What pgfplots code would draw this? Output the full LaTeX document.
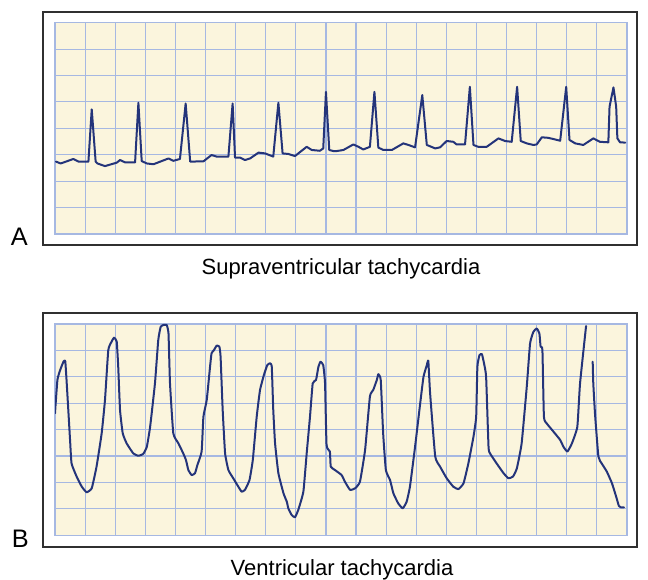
\documentclass[border=0pt]{standalone}
\usepackage{pgfplots}
\pgfplotsset{compat=1.18}
\usepackage{fontspec}
\setmainfont{Liberation Sans}
\definecolor{cream}{HTML}{FBF5DD}
\definecolor{gridblue}{HTML}{A6B8E2}
\definecolor{trace}{HTML}{24347A}
\definecolor{frame}{HTML}{303030}
\pgfplotsset{ecg/.style={
  scale only axis, width=429pt, height=158.5pt, anchor=south west,
  xmin=0, xmax=19, ymin=0, ymax=8,
  xtick={0,...,19}, ytick={0,...,8},
  xticklabels={}, yticklabels={},
  major tick length=0pt,
  grid=major, major grid style={draw=gridblue, line width=0.85pt},
  axis line style={draw=gridblue, line width=0.85pt},
  axis background/.style={fill=cream},
},
ecgline/.style={draw=trace, line width=1.5pt, line join=round, line cap=round, no markers}}
\begin{document}
\begin{tikzpicture}[x=0.75pt,y=0.75pt]
\path[use as bounding box] (0,0) rectangle (648,580);
\coordinate (pA) at (55,346);
\coordinate (pB) at (55,44.7);
% frames
\draw[frame, line width=1.1pt, fill=white] (43,568) rectangle (637,335);
\draw[frame, line width=1.1pt, fill=white] (43,267) rectangle (637,33);
% panel A
\begin{axis}[ecg, at={(pA)}]
\addplot[ecgline, sharp plot] coordinates {
(0.03,2.74)(0.19,2.67)(0.61,2.84)(0.78,2.74)(1.11,2.74)(1.22,4.72)(1.35,2.74)(1.41,2.67)(1.66,2.57)(2.05,2.70)(2.16,2.80)(2.33,2.71)(2.66,2.71)(2.77,4.97)(2.88,2.76)(3.05,2.67)(3.27,2.64)(3.77,2.86)(3.93,2.77)(4.15,2.84)(4.34,4.94)(4.49,2.74)(4.93,2.75)(5.20,2.99)(5.37,2.93)(5.76,2.93)(5.90,4.94)(5.98,2.89)(6.15,2.89)(6.31,2.80)(6.48,2.86)(6.76,3.08)(6.98,3.05)(7.25,2.93)(7.42,4.97)(7.56,3.05)(7.75,3.03)(7.97,2.95)(8.36,3.30)(8.53,3.18)(8.80,3.15)(8.91,3.24)(9.00,5.38)(9.11,3.18)(9.25,3.14)(9.36,3.14)(9.58,3.18)(9.91,3.39)(10.08,3.30)(10.24,3.20)(10.46,3.30)(10.61,5.38)(10.74,3.27)(10.91,3.18)(11.19,3.18)(11.57,3.43)(11.74,3.37)(11.96,3.28)(12.20,5.26)(12.35,3.37)(12.63,3.24)(12.79,3.28)(13.01,3.52)(13.23,3.49)(13.34,3.39)(13.62,3.39)(13.78,5.57)(13.90,3.37)(14.06,3.30)(14.34,3.30)(14.73,3.62)(14.95,3.52)(15.17,3.49)(15.35,5.57)(15.47,3.52)(15.67,3.43)(15.89,3.37)(16.00,3.39)(16.17,3.66)(16.39,3.64)(16.78,3.53)(16.98,5.57)(17.09,3.56)(17.28,3.43)(17.55,3.37)(17.88,3.62)(18.10,3.49)(18.38,3.47)(18.42,4.82)(18.55,5.55)(18.64,4.82)(18.68,3.62)(18.77,3.47)(18.94,3.46)
};
\end{axis}
% panel B
\begin{axis}[ecg, at={(pB)}]
\addplot[ecgline, smooth, tension=0.25] coordinates {
(0.00,4.62)(0.08,5.88)(0.17,6.25)(0.28,6.57)(0.34,6.60)(0.39,5.75)(0.50,3.61)(0.55,2.72)(0.72,2.22)(0.89,1.84)(1.05,1.63)(1.22,1.78)(1.38,2.60)(1.55,3.86)(1.66,5.12)(1.77,7.01)(1.88,7.33)(1.96,7.48)(2.05,7.33)(2.10,6.38)(2.16,4.74)(2.25,3.86)(2.38,3.48)(2.60,3.10)(2.77,3.01)(2.93,3.08)(3.05,3.35)(3.16,4.11)(3.32,5.75)(3.43,7.39)(3.51,7.89)(3.60,7.96)(3.71,7.96)(3.77,7.64)(3.82,5.75)(3.93,3.86)(4.10,3.48)(4.26,3.10)(4.35,2.85)(4.43,2.47)(4.54,2.28)(4.65,2.35)(4.73,2.66)(4.87,3.17)(4.93,4.49)(5.04,5.12)(5.15,6.38)(5.20,6.89)(5.28,7.01)(5.37,7.18)(5.46,7.14)(5.50,6.76)(5.57,4.74)(5.65,3.10)(5.76,2.47)(5.92,2.16)(6.09,1.84)(6.20,1.65)(6.31,1.72)(6.46,2.09)(6.57,2.85)(6.70,4.49)(6.81,5.50)(6.94,6.07)(7.05,6.44)(7.14,6.51)(7.20,6.38)(7.25,4.74)(7.31,3.48)(7.42,2.35)(7.59,1.59)(7.70,1.27)(7.75,1.02)(7.86,0.77)(7.97,0.68)(8.08,0.96)(8.25,1.65)(8.36,3.10)(8.47,4.49)(8.56,5.75)(8.67,5.88)(8.75,6.38)(8.82,6.57)(8.91,6.44)(8.97,5.75)(9.02,3.42)(9.13,3.17)(9.16,2.60)(9.30,2.47)(9.52,2.28)(9.63,2.03)(9.80,1.72)(9.97,1.78)(10.13,2.03)(10.30,3.23)(10.46,5.25)(10.57,5.50)(10.69,5.88)(10.74,6.10)(10.82,5.88)(10.90,3.86)(10.99,2.47)(11.13,2.09)(11.24,1.59)(11.40,1.21)(11.55,1.02)(11.68,1.27)(11.79,1.84)(11.96,3.35)(12.13,4.99)(12.24,6.00)(12.35,6.44)(12.40,6.60)(12.46,5.37)(12.63,2.98)(12.79,2.60)(13.01,2.16)(13.23,1.84)(13.40,1.75)(13.57,1.97)(13.73,2.72)(13.90,3.73)(13.99,4.49)(14.03,6.38)(14.10,6.82)(14.18,6.86)(14.25,6.51)(14.32,6.00)(14.40,3.35)(14.45,3.10)(14.67,2.72)(14.90,2.35)(15.06,2.16)(15.21,2.22)(15.34,2.53)(15.50,3.48)(15.67,5.62)(15.78,7.26)(15.89,7.70)(16.00,7.83)(16.09,7.64)(16.13,7.14)(16.19,7.01)(16.24,4.49)(16.33,4.24)(16.56,3.92)(16.78,3.61)(16.89,3.35)(17.02,3.17)(17.17,3.48)(17.35,4.11)(17.44,5.75)(17.64,7.92)
};
\addplot[ecgline, smooth, tension=0.25] coordinates {
(17.86,6.57)(17.88,5.75)(17.94,4.55)(18.05,2.98)(18.16,2.72)(18.33,2.41)(18.50,1.97)(18.64,1.46)(18.73,1.11)(18.79,1.06)(18.90,1.06)
};
\end{axis}
% labels
\node[anchor=base west, font=\fontsize{19}{22}\selectfont, inner sep=0pt] at (10.5,334.5) {A};
\node[anchor=base west, font=\fontsize{19}{22}\selectfont, inner sep=0pt] at (11.5,32.7) {B};
\node[anchor=base, font=\fontsize{16.5}{19}\selectfont, inner sep=0pt] at (341,305.7) {Supraventricular tachycardia};
\node[anchor=base, font=\fontsize{16.5}{19}\selectfont, inner sep=0pt] at (342,4.5) {Ventricular tachycardia};
\end{tikzpicture}
\end{document}
